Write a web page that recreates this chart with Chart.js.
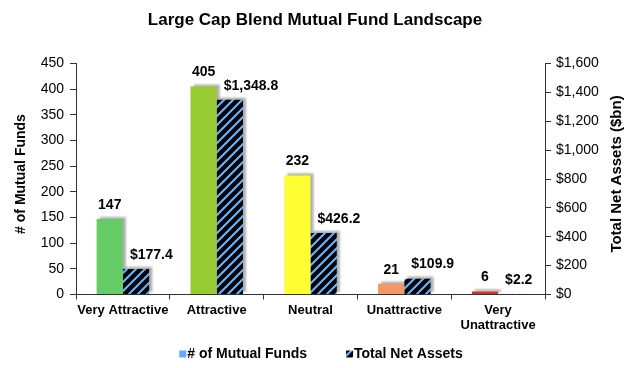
<!DOCTYPE html>
<html lang="en">
<head>
<meta charset="UTF-8">
<title>Large Cap Blend Mutual Fund Landscape</title>
<script src="https://cdn.jsdelivr.net/npm/chart.js"></script>
<style>
  html, body { margin: 0; padding: 0; background: #fff; }
</style>
</head>
<body>
<canvas id="fundChart" width="630" height="368"></canvas>
<script>
const ratings = ['Very Attractive', 'Attractive', 'Neutral', 'Unattractive', ['Very', 'Unattractive']];
const fundCounts = [147, 405, 232, 21, 6];
const netAssets = [177.4, 1348.8, 426.2, 109.9, 2.2];
const ratingColors = ['#66CC66', '#99CC33', '#FFFF33', '#F4956A', '#CC3333'];
const axisTitles = ['# of Mutual Funds', 'Total Net Assets ($bn)'];

const FONT = '"Liberation Sans", Arial, sans-serif';
Chart.defaults.font.family = FONT;
Chart.defaults.color = '#000';

// black bars with thin blue diagonal stripes
function makeHatch() {
    const c = document.createElement('canvas');
    c.width = 9; c.height = 9;
    const g = c.getContext('2d');
    g.fillStyle = '#000';
    g.fillRect(0, 0, 9, 9);
    g.strokeStyle = '#66B2FF';
    g.lineWidth = 2.2;
    g.beginPath();
    g.moveTo(-1, 10); g.lineTo(10, -1);
    g.moveTo(-2, 2); g.lineTo(2, -2);
    g.moveTo(7, 11); g.lineTo(11, 7);
    g.stroke();
    return g.createPattern(c, 'repeat');
}
const hatch = makeHatch();

const barShadows = {
    id: 'barShadows',
    beforeDatasetsDraw(chart) {
        const {ctx, chartArea} = chart;
        ctx.save();
        ctx.beginPath();
        ctx.rect(chartArea.left, chartArea.top, chartArea.width, chartArea.height);
        ctx.clip();
        ctx.fillStyle = 'rgba(0,0,0,0.32)';
        ctx.filter = 'blur(1px)';
        chart.data.datasets.forEach((ds, i) => {
            chart.getDatasetMeta(i).data.forEach(bar => {
                const p = bar.getProps(['x', 'y', 'base', 'width'], true);
                ctx.fillRect(p.x - p.width / 2 + 3, p.y - 2, p.width, p.base - p.y);
            });
        });
        ctx.restore();
    }
};

const barLabels = {
    id: 'barLabels',
    afterDatasetsDraw(chart) {
        const ctx = chart.ctx;
        ctx.save();
        ctx.font = 'bold 14px ' + FONT;
        ctx.fillStyle = '#000';
        ctx.textBaseline = 'middle';
        chart.data.datasets.forEach((ds, i) => {
            chart.getDatasetMeta(i).data.forEach((bar, j) => {
                const v = ds.data[j];
                if (i === 0) {
                    ctx.textAlign = 'center';
                    ctx.fillText(String(v), bar.x, bar.y - 14);
                } else {
                    ctx.textAlign = 'left';
                    ctx.fillText('$' + v.toLocaleString('en-US', {minimumFractionDigits: 1}), bar.x - bar.width / 2 + 7, bar.y - 14);
                }
            });
        });
        ctx.restore();
    }
};

// both axis titles read bottom-to-top, as in the original
const sideTitles = {
    id: 'sideTitles',
    afterDraw(chart) {
        const {ctx, chartArea} = chart;
        const cy = (chartArea.top + chartArea.bottom) / 2 - 5;
        const spots = [[21, 14], [617, 15]];
        ctx.save();
        ctx.fillStyle = '#000';
        ctx.textAlign = 'center';
        ctx.textBaseline = 'middle';
        axisTitles.forEach((t, i) => {
            ctx.save();
            ctx.font = 'bold ' + spots[i][1] + 'px ' + FONT;
            ctx.translate(spots[i][0], cy);
            ctx.rotate(-Math.PI / 2);
            ctx.fillText(t, 0, 0);
            ctx.restore();
        });
        ctx.restore();
    }
};

// legend drawn by hand so the item spacing matches the original
const bottomLegend = {
    id: 'bottomLegend',
    afterDraw(chart) {
        const ctx = chart.ctx;
        const swatches = ['#66AAFF', hatch];
        ctx.save();
        ctx.font = 'bold 14px ' + FONT;
        ctx.textBaseline = 'middle';
        ctx.textAlign = 'left';
        const widths = chart.data.datasets.map(ds => ctx.measureText(ds.label).width);
        const gap = 39, boxToText = 8, box = 7;
        const total = widths.reduce((a, w) => a + boxToText + w, 0) + gap * (widths.length - 1);
        let x = (chart.width - total) / 2 + 6;
        const y = 354;
        chart.data.datasets.forEach((ds, i) => {
            ctx.fillStyle = swatches[i];
            ctx.fillRect(x, y - box / 2, box, box);
            ctx.fillStyle = '#000';
            ctx.fillText(ds.label, x + boxToText, y);
            x += boxToText + widths[i] + gap;
        });
        ctx.restore();
    }
};

const ctx = document.getElementById('fundChart').getContext('2d');
const fundChart = new Chart(ctx, {
    type: 'bar',
    data: {
        labels: ratings,
        datasets: [{
            label: '# of Mutual Funds',
            data: fundCounts,
            backgroundColor: ratingColors,
            yAxisID: 'y',
            categoryPercentage: 0.56,
            barPercentage: 1
        }, {
            label: 'Total Net Assets',
            data: netAssets,
            backgroundColor: hatch,
            yAxisID: 'y1',
            categoryPercentage: 0.56,
            barPercentage: 1
        }]
    },
    options: {
        responsive: false,
        animation: false,
        layout: { padding: 0 },
        scales: {
            x: {
                offset: true,
                grid: { offset: true, drawOnChartArea: false, tickLength: 5, color: '#333' },
                border: { color: '#333' },
                ticks: {
                    autoSkip: false, maxRotation: 0, padding: 3,
                    font: { size: 13, weight: 'bold', lineHeight: 1.15 }
                },
                afterFit: s => { s.height = 73.5; }
            },
            y: {
                position: 'left',
                min: 0, max: 450,
                ticks: { stepSize: 50, padding: 6, font: { size: 14 } },
                grid: { drawOnChartArea: false, tickLength: 6, color: '#333' },
                border: { color: '#333' },
                afterFit: s => { s.width = 76; }
            },
            y1: {
                position: 'right',
                min: 0, max: 1600,
                ticks: {
                    stepSize: 200, padding: 5, font: { size: 14 },
                    callback: v => '$' + v.toLocaleString('en-US')
                },
                grid: { drawOnChartArea: false, tickLength: 6, color: '#333' },
                border: { color: '#333' },
                afterFit: s => { s.width = 85; }
            }
        },
        plugins: {
            title: {
                display: true,
                text: 'Large Cap Blend Mutual Fund Landscape',
                font: { size: 17, weight: 'bold' },
                padding: { top: 10.5, bottom: 32.6 }
            },
            legend: { display: false },
            tooltip: { enabled: false }
        }
    },
    plugins: [barShadows, barLabels, sideTitles, bottomLegend]
});
</script>
</body>
</html>
